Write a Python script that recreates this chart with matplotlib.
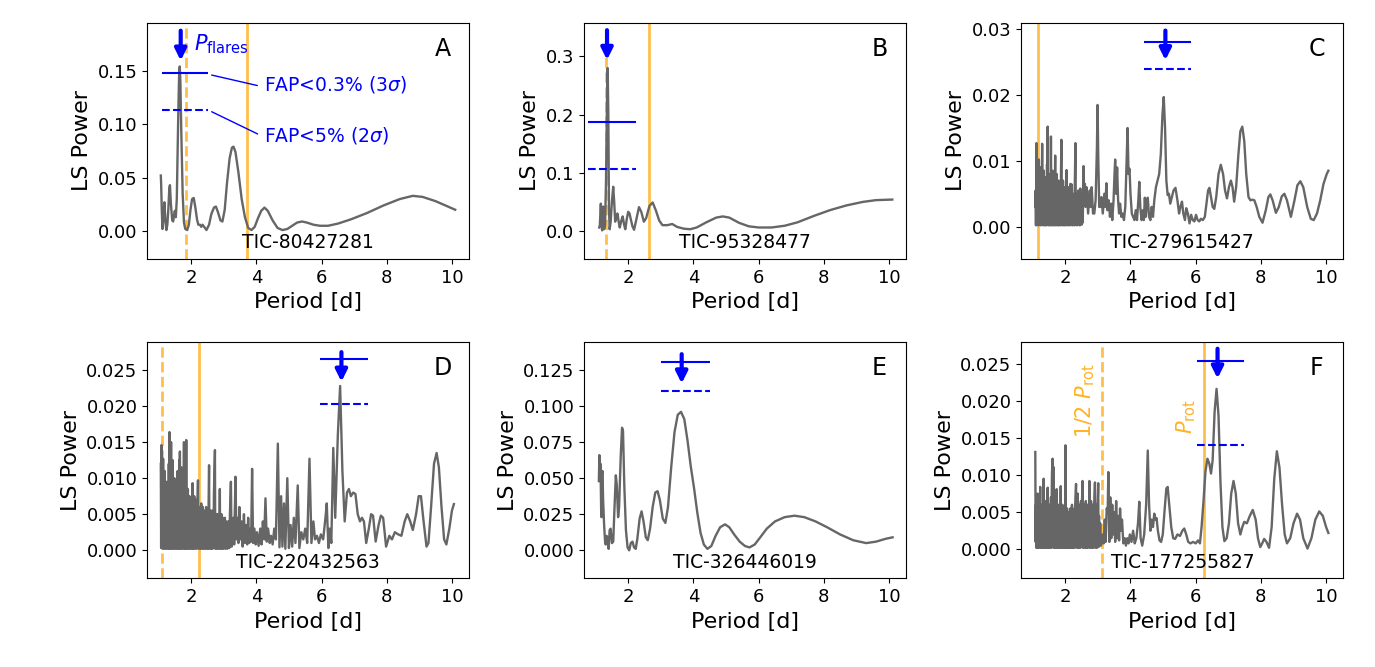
import matplotlib
matplotlib.use('Agg')
import matplotlib.pyplot as plt

# ---- panel A : TIC-80427281 ----
period_A = [1.07, 1.08, 1.10, 1.12, 1.15, 1.18, 1.21, 1.24, 1.27, 1.30, 1.33, 1.35, 1.38, 1.42, 1.45,
            1.48, 1.50, 1.53, 1.56, 1.60, 1.63, 1.65, 1.67, 1.70, 1.74, 1.78, 1.82, 1.88, 1.93, 1.98,
            2.03, 2.08, 2.13, 2.18, 2.22, 2.27, 2.31, 2.35, 2.40, 2.47, 2.55, 2.62, 2.70, 2.76, 2.82,
            2.90, 2.96, 3.03, 3.10, 3.18, 3.25, 3.30, 3.36, 3.45, 3.55, 3.65, 3.75, 3.85, 3.95, 4.05,
            4.15, 4.25, 4.35, 4.50, 4.65, 4.80, 4.95, 5.10, 5.25, 5.40, 5.55, 5.75, 5.95, 6.20, 6.50,
            6.90, 7.40, 7.90, 8.40, 8.80, 9.10, 9.50, 9.80, 10.10]
power_A = [0.052, 0.044, 0.020, 0.002, 0.012, 0.027, 0.010, 0.001, 0.006, 0.020, 0.040, 0.043, 0.025, 0.010, 0.009,
           0.016, 0.019, 0.013, 0.030, 0.100, 0.145, 0.154, 0.140, 0.090, 0.035, 0.008, 0.002, 0.001, 0.006, 0.020,
           0.030, 0.031, 0.022, 0.011, 0.006, 0.006, 0.004, 0.006, 0.004, 0.001, 0.006, 0.016, 0.022, 0.023, 0.018,
           0.010, 0.009, 0.020, 0.045, 0.068, 0.078, 0.079, 0.074, 0.055, 0.030, 0.013, 0.003, 0.001, 0.004, 0.012,
           0.019, 0.022, 0.019, 0.010, 0.003, 0.001, 0.002, 0.005, 0.008, 0.009, 0.008, 0.006, 0.005, 0.005, 0.007,
           0.011, 0.017, 0.024, 0.030, 0.033, 0.032, 0.028, 0.024, 0.020]
yticks_A = [0.00, 0.05, 0.10, 0.15]

# ---- panel B : TIC-95328477 ----
period_B = [1.11, 1.13, 1.16, 1.18, 1.20, 1.23, 1.26, 1.29, 1.32, 1.35, 1.37, 1.39, 1.41, 1.43, 1.46,
            1.50, 1.54, 1.57, 1.60, 1.64, 1.67, 1.71, 1.74, 1.79, 1.83, 1.87, 1.91, 1.96, 2.00, 2.04,
            2.08, 2.13, 2.18, 2.25, 2.33, 2.40, 2.48, 2.55, 2.65, 2.75, 2.85, 2.95, 3.05, 3.20, 3.35,
            3.50, 3.70, 3.90, 4.10, 4.40, 4.70, 4.90, 5.10, 5.40, 5.70, 6.00, 6.40, 6.80, 7.20, 7.70,
            8.20, 8.70, 9.20, 9.60, 10.10]
power_B = [0.006, 0.010, 0.047, 0.010, 0.001, 0.042, 0.003, 0.010, 0.090, 0.230, 0.280, 0.200, 0.040, 0.003, 0.015,
           0.050, 0.076, 0.050, 0.016, 0.025, 0.030, 0.015, 0.006, 0.018, 0.025, 0.012, 0.003, 0.022, 0.033, 0.030,
           0.020, 0.008, 0.002, 0.020, 0.041, 0.033, 0.016, 0.022, 0.043, 0.049, 0.035, 0.018, 0.010, 0.010, 0.012,
           0.007, 0.004, 0.003, 0.006, 0.015, 0.023, 0.025, 0.023, 0.014, 0.008, 0.006, 0.006, 0.009, 0.015, 0.026,
           0.036, 0.044, 0.050, 0.053, 0.054]
yticks_B = [0.0, 0.1, 0.2, 0.3]

# ---- panel C : TIC-279615427 ----
period_C = [1.08, 1.09, 1.10, 1.115, 1.125, 1.14, 1.15, 1.165, 1.175, 1.19, 1.20, 1.215, 1.225, 1.24, 1.25,
            1.265, 1.275, 1.29, 1.30, 1.315, 1.325, 1.34, 1.35, 1.365, 1.375, 1.39, 1.40, 1.415, 1.425, 1.44,
            1.45, 1.46, 1.47, 1.485, 1.495, 1.51, 1.52, 1.535, 1.545, 1.56, 1.57, 1.585, 1.595, 1.61, 1.62,
            1.635, 1.645, 1.66, 1.67, 1.69, 1.70, 1.715, 1.725, 1.74, 1.75, 1.765, 1.775, 1.79, 1.80, 1.815,
            1.825, 1.84, 1.85, 1.88, 1.89, 1.905, 1.915, 1.93, 1.94, 1.955, 1.965, 1.98, 1.99, 2.01, 2.02,
            2.04, 2.05, 2.065, 2.08, 2.095, 2.11, 2.125, 2.14, 2.155, 2.17, 2.185, 2.20, 2.215, 2.23, 2.245,
            2.26, 2.275, 2.29, 2.31, 2.325, 2.34, 2.355, 2.37, 2.385, 2.40, 2.415, 2.43, 2.445, 2.46, 2.475,
            2.49, 2.505, 2.52, 2.535, 2.56, 2.58, 2.60, 2.62, 2.65, 2.70, 2.75, 2.78, 2.81, 2.85, 2.89,
            2.93, 2.97, 2.99, 3.01, 3.04, 3.07, 3.11, 3.15, 3.20, 3.23, 3.26, 3.29, 3.33, 3.37, 3.41,
            3.44, 3.48, 3.51, 3.53, 3.56, 3.59, 3.62, 3.65, 3.68, 3.72, 3.76, 3.80, 3.84, 3.88, 3.91,
            3.94, 3.97, 4.00, 4.04, 4.08, 4.12, 4.16, 4.20, 4.24, 4.27, 4.30, 4.34, 4.38, 4.41, 4.44,
            4.47, 4.50, 4.53, 4.57, 4.61, 4.65, 4.69, 4.73, 4.78, 4.83, 4.88, 4.93, 4.98, 5.02, 5.06,
            5.10, 5.14, 5.18, 5.22, 5.27, 5.32, 5.38, 5.44, 5.49, 5.53, 5.58, 5.62, 5.67, 5.71, 5.76,
            5.81, 5.86, 5.91, 5.96, 6.01, 6.06, 6.11, 6.16, 6.22, 6.28, 6.33, 6.38, 6.42, 6.47, 6.52,
            6.57, 6.63, 6.70, 6.77, 6.84, 6.90, 6.96, 7.02, 7.08, 7.13, 7.18, 7.24, 7.31, 7.37, 7.43,
            7.49, 7.55, 7.62, 7.68, 7.74, 7.80, 7.87, 7.95, 8.05, 8.15, 8.23, 8.29, 8.36, 8.46, 8.55,
            8.64, 8.72, 8.80, 8.92, 9.03, 9.12, 9.21, 9.30, 9.42, 9.53, 9.62, 9.72, 9.82, 9.92, 10.02,
            10.07]
power_C = [0.0030, 0.0055, 0.0002, 0.0127, 0.0003, 0.0098, 0.0005, 0.0080, 0.0002, 0.0102, 0.0004, 0.0060, 0.0003, 0.0090, 0.0002,
           0.0050, 0.0004, 0.0126, 0.0003, 0.0070, 0.0002, 0.0085, 0.0004, 0.0055, 0.0002, 0.0075, 0.0005, 0.0060, 0.0002, 0.0095,
           0.0003, 0.0152, 0.0003, 0.0065, 0.0002, 0.0080, 0.0004, 0.0050, 0.0002, 0.0137, 0.0003, 0.0070, 0.0002, 0.0085, 0.0004,
           0.0055, 0.0002, 0.0075, 0.0003, 0.0108, 0.0002, 0.0060, 0.0004, 0.0080, 0.0002, 0.0050, 0.0003, 0.0070, 0.0002, 0.0045,
           0.0004, 0.0065, 0.0002, 0.0132, 0.0003, 0.0055, 0.0002, 0.0070, 0.0004, 0.0045, 0.0002, 0.0060, 0.0003, 0.0050, 0.0002,
           0.0086, 0.0003, 0.0045, 0.0002, 0.0060, 0.0004, 0.0040, 0.0002, 0.0065, 0.0003, 0.0045, 0.0064, 0.0002, 0.0050, 0.0004,
           0.0040, 0.0002, 0.0055, 0.0127, 0.0003, 0.0050, 0.0002, 0.0045, 0.0004, 0.0055, 0.0003, 0.0040, 0.0002, 0.0058, 0.0005,
           0.0045, 0.0003, 0.0050, 0.0006, 0.0092, 0.0040, 0.0065, 0.0030, 0.0060, 0.0020, 0.0055, 0.0030, 0.0060, 0.0020, 0.0020,
           0.0040, 0.0120, 0.0185, 0.0110, 0.0030, 0.0030, 0.0045, 0.0020, 0.0050, 0.0030, 0.0066, 0.0025, 0.0040, 0.0015, 0.0035,
           0.0010, 0.0040, 0.0080, 0.0102, 0.0050, 0.0090, 0.0040, 0.0020, 0.0035, 0.0015, 0.0020, 0.0010, 0.0030, 0.0100, 0.0150,
           0.0080, 0.0088, 0.0050, 0.0020, 0.0015, 0.0010, 0.0025, 0.0010, 0.0040, 0.0068, 0.0030, 0.0010, 0.0025, 0.0010, 0.0044,
           0.0015, 0.0040, 0.0044, 0.0015, 0.0010, 0.0030, 0.0015, 0.0040, 0.0060, 0.0070, 0.0080, 0.0110, 0.0170, 0.0197, 0.0150,
           0.0070, 0.0048, 0.0050, 0.0035, 0.0045, 0.0055, 0.0059, 0.0040, 0.0020, 0.0030, 0.0038, 0.0020, 0.0010, 0.0028, 0.0020,
           0.0005, 0.0018, 0.0010, 0.0008, 0.0018, 0.0010, 0.0008, 0.0012, 0.0010, 0.0015, 0.0035, 0.0055, 0.0059, 0.0045, 0.0030,
           0.0027, 0.0045, 0.0080, 0.0094, 0.0080, 0.0055, 0.0043, 0.0060, 0.0070, 0.0060, 0.0038, 0.0060, 0.0110, 0.0145, 0.0152,
           0.0130, 0.0080, 0.0045, 0.0040, 0.0041, 0.0040, 0.0030, 0.0015, 0.0006, 0.0025, 0.0045, 0.0049, 0.0040, 0.0021, 0.0030,
           0.0046, 0.0050, 0.0040, 0.0015, 0.0040, 0.0063, 0.0069, 0.0060, 0.0030, 0.0012, 0.0010, 0.0020, 0.0040, 0.0065, 0.0080,
           0.0085]
yticks_C = [0.00, 0.01, 0.02, 0.03]

# ---- panel D : TIC-220432563 ----
period_D = [1.07, 1.08, 1.09, 1.10, 1.115, 1.125, 1.14, 1.15, 1.165, 1.175, 1.19, 1.20, 1.215, 1.225, 1.24,
            1.25, 1.265, 1.275, 1.29, 1.30, 1.315, 1.325, 1.335, 1.345, 1.36, 1.37, 1.385, 1.395, 1.41, 1.42,
            1.435, 1.445, 1.46, 1.47, 1.485, 1.495, 1.51, 1.52, 1.535, 1.545, 1.56, 1.57, 1.585, 1.595, 1.61,
            1.62, 1.635, 1.645, 1.655, 1.665, 1.68, 1.69, 1.705, 1.715, 1.73, 1.74, 1.755, 1.765, 1.78, 1.79,
            1.805, 1.815, 1.83, 1.84, 1.85, 1.86, 1.875, 1.885, 1.90, 1.91, 1.925, 1.935, 1.95, 1.96, 1.975,
            1.985, 2.00, 2.01, 2.025, 2.035, 2.045, 2.055, 2.07, 2.08, 2.095, 2.105, 2.12, 2.13, 2.145, 2.155,
            2.17, 2.18, 2.195, 2.21, 2.22, 2.235, 2.245, 2.26, 2.27, 2.285, 2.295, 2.31, 2.32, 2.335, 2.345,
            2.36, 2.37, 2.385, 2.395, 2.41, 2.42, 2.435, 2.445, 2.46, 2.47, 2.485, 2.495, 2.51, 2.52, 2.535,
            2.55, 2.56, 2.575, 2.585, 2.60, 2.61, 2.625, 2.635, 2.65, 2.66, 2.675, 2.685, 2.70, 2.73, 2.74,
            2.755, 2.765, 2.78, 2.79, 2.805, 2.815, 2.83, 2.84, 2.855, 2.865, 2.88, 2.89, 2.905, 2.915, 2.93,
            2.94, 2.955, 2.965, 2.98, 2.99, 3.005, 3.02, 3.035, 3.05, 3.065, 3.08, 3.095, 3.11, 3.125, 3.14,
            3.155, 3.17, 3.19, 3.22, 3.24, 3.26, 3.28, 3.30, 3.32, 3.36, 3.39, 3.42, 3.45, 3.48, 3.51,
            3.55, 3.58, 3.62, 3.65, 3.69, 3.72, 3.75, 3.78, 3.82, 3.84, 3.87, 3.90, 3.94, 3.98, 4.02,
            4.07, 4.12, 4.16, 4.20, 4.24, 4.28, 4.32, 4.36, 4.41, 4.45, 4.50, 4.55, 4.60, 4.66, 4.71,
            4.76, 4.80, 4.85, 4.89, 4.95, 5.00, 5.05, 5.10, 5.15, 5.20, 5.27, 5.32, 5.38, 5.44, 5.50,
            5.56, 5.63, 5.69, 5.75, 5.80, 5.86, 5.92, 5.98, 6.05, 6.12, 6.16, 6.21, 6.25, 6.30, 6.36,
            6.42, 6.50, 6.57, 6.64, 6.71, 6.78, 6.84, 6.90, 6.97, 7.04, 7.11, 7.18, 7.24, 7.30, 7.37,
            7.45, 7.52, 7.58, 7.66, 7.75, 7.82, 7.89, 7.98, 8.08, 8.16, 8.25, 8.35, 8.45, 8.55, 8.63,
            8.72, 8.80, 8.90, 8.98, 9.05, 9.13, 9.22, 9.28, 9.36, 9.45, 9.53, 9.60, 9.68, 9.76, 9.83,
            9.92, 10.00, 10.06]
power_D = [0.0120, 0.0003, 0.0146, 0.0005, 0.0100, 0.0002, 0.0127, 0.0004, 0.0070, 0.0002, 0.0110, 0.0005, 0.0065, 0.0002, 0.0095,
           0.0004, 0.0060, 0.0002, 0.0080, 0.0003, 0.0120, 0.0002, 0.0164, 0.0004, 0.0110, 0.0002, 0.0150, 0.0003, 0.0085, 0.0002,
           0.0125, 0.0004, 0.0070, 0.0002, 0.0100, 0.0003, 0.0065, 0.0002, 0.0085, 0.0004, 0.0060, 0.0002, 0.0110, 0.0003, 0.0075,
           0.0002, 0.0125, 0.0004, 0.0137, 0.0002, 0.0080, 0.0003, 0.0115, 0.0002, 0.0065, 0.0004, 0.0105, 0.0002, 0.0150, 0.0003,
           0.0090, 0.0002, 0.0120, 0.0004, 0.0153, 0.0002, 0.0070, 0.0003, 0.0085, 0.0002, 0.0055, 0.0004, 0.0075, 0.0002, 0.0060,
           0.0003, 0.0070, 0.0002, 0.0065, 0.0004, 0.0093, 0.0002, 0.0060, 0.0003, 0.0075, 0.0002, 0.0055, 0.0004, 0.0070, 0.0002,
           0.0050, 0.0003, 0.0065, 0.0097, 0.0002, 0.0055, 0.0004, 0.0060, 0.0002, 0.0050, 0.0003, 0.0065, 0.0002, 0.0050, 0.0004,
           0.0060, 0.0002, 0.0045, 0.0003, 0.0055, 0.0002, 0.0050, 0.0004, 0.0060, 0.0002, 0.0045, 0.0003, 0.0055, 0.0002, 0.0060,
           0.0118, 0.0002, 0.0050, 0.0004, 0.0055, 0.0002, 0.0045, 0.0003, 0.0055, 0.0002, 0.0050, 0.0004, 0.0080, 0.0139, 0.0002,
           0.0045, 0.0003, 0.0050, 0.0002, 0.0040, 0.0004, 0.0050, 0.0002, 0.0045, 0.0003, 0.0085, 0.0002, 0.0040, 0.0004, 0.0050,
           0.0002, 0.0040, 0.0003, 0.0045, 0.0002, 0.0035, 0.0004, 0.0045, 0.0002, 0.0035, 0.0003, 0.0040, 0.0002, 0.0035, 0.0004,
           0.0040, 0.0003, 0.0050, 0.0095, 0.0005, 0.0040, 0.0010, 0.0045, 0.0008, 0.0102, 0.0015, 0.0045, 0.0010, 0.0060, 0.0015,
           0.0040, 0.0005, 0.0050, 0.0010, 0.0035, 0.0008, 0.0045, 0.0010, 0.0030, 0.0012, 0.0113, 0.0010, 0.0030, 0.0008, 0.0025,
           0.0006, 0.0030, 0.0008, 0.0040, 0.0015, 0.0072, 0.0012, 0.0030, 0.0010, 0.0020, 0.0008, 0.0030, 0.0015, 0.0148, 0.0004,
           0.0075, 0.0005, 0.0065, 0.0002, 0.0100, 0.0003, 0.0035, 0.0005, 0.0045, 0.0010, 0.0090, 0.0003, 0.0025, 0.0015, 0.0030,
           0.0010, 0.0127, 0.0010, 0.0040, 0.0015, 0.0020, 0.0010, 0.0022, 0.0015, 0.0045, 0.0065, 0.0003, 0.0030, 0.0010, 0.0142,
           0.0045, 0.0160, 0.0228, 0.0110, 0.0040, 0.0080, 0.0085, 0.0075, 0.0080, 0.0078, 0.0050, 0.0040, 0.0045, 0.0040, 0.0010,
           0.0030, 0.0050, 0.0048, 0.0012, 0.0035, 0.0048, 0.0045, 0.0005, 0.0020, 0.0015, 0.0025, 0.0022, 0.0020, 0.0040, 0.0050,
           0.0040, 0.0028, 0.0050, 0.0075, 0.0075, 0.0040, 0.0005, 0.0010, 0.0060, 0.0120, 0.0135, 0.0115, 0.0060, 0.0015, 0.0008,
           0.0030, 0.0055, 0.0064]
yticks_D = [0.000, 0.005, 0.010, 0.015, 0.020, 0.025]

# ---- panel E : TIC-326446019 ----
period_E = [1.10, 1.115, 1.13, 1.15, 1.17, 1.18, 1.195, 1.21, 1.23, 1.26, 1.29, 1.31, 1.34, 1.37, 1.40,
            1.43, 1.46, 1.50, 1.54, 1.58, 1.62, 1.65, 1.69, 1.72, 1.77, 1.81, 1.84, 1.88, 1.93, 1.98,
            2.03, 2.08, 2.13, 2.18, 2.23, 2.28, 2.35, 2.41, 2.47, 2.54, 2.60, 2.67, 2.75, 2.83, 2.90,
            2.97, 3.06, 3.14, 3.22, 3.32, 3.42, 3.52, 3.62, 3.72, 3.82, 3.92, 4.02, 4.12, 4.22, 4.32,
            4.43, 4.55, 4.68, 4.82, 4.97, 5.10, 5.25, 5.42, 5.58, 5.72, 5.88, 6.05, 6.25, 6.50, 6.80,
            7.10, 7.40, 7.75, 8.10, 8.50, 8.90, 9.30, 9.60, 9.90, 10.11]
power_E = [0.048, 0.066, 0.050, 0.060, 0.028, 0.023, 0.052, 0.055, 0.035, 0.018, 0.006, 0.004, 0.010, 0.008, 0.001,
           0.014, 0.015, 0.005, 0.006, 0.030, 0.052, 0.045, 0.023, 0.030, 0.065, 0.085, 0.083, 0.045, 0.014, 0.002,
           0.000, 0.005, 0.006, 0.002, 0.001, 0.008, 0.022, 0.027, 0.020, 0.009, 0.007, 0.015, 0.030, 0.040, 0.041,
           0.035, 0.022, 0.019, 0.030, 0.058, 0.082, 0.094, 0.096, 0.091, 0.076, 0.058, 0.043, 0.026, 0.012, 0.004,
           0.001, 0.003, 0.010, 0.016, 0.018, 0.016, 0.011, 0.006, 0.003, 0.002, 0.004, 0.009, 0.015, 0.020, 0.023,
           0.024, 0.023, 0.020, 0.016, 0.011, 0.007, 0.005, 0.006, 0.008, 0.009]
yticks_E = [0.000, 0.025, 0.050, 0.075, 0.100, 0.125]

# ---- panel F : TIC-177255827 ----
period_F = [1.08, 1.09, 1.10, 1.11, 1.125, 1.135, 1.15, 1.16, 1.175, 1.185, 1.20, 1.21, 1.23, 1.24, 1.255,
            1.265, 1.28, 1.29, 1.305, 1.315, 1.335, 1.345, 1.36, 1.37, 1.385, 1.395, 1.41, 1.42, 1.435, 1.445,
            1.46, 1.47, 1.485, 1.495, 1.51, 1.52, 1.535, 1.545, 1.56, 1.57, 1.59, 1.61, 1.62, 1.635, 1.645,
            1.66, 1.67, 1.685, 1.695, 1.71, 1.72, 1.735, 1.745, 1.76, 1.77, 1.785, 1.795, 1.81, 1.82, 1.835,
            1.845, 1.86, 1.87, 1.885, 1.895, 1.91, 1.92, 1.935, 1.945, 1.96, 1.97, 1.985, 1.995, 2.005, 2.015,
            2.03, 2.04, 2.055, 2.065, 2.08, 2.09, 2.105, 2.115, 2.13, 2.14, 2.155, 2.165, 2.18, 2.19, 2.205,
            2.215, 2.23, 2.24, 2.255, 2.265, 2.28, 2.29, 2.305, 2.33, 2.34, 2.355, 2.365, 2.38, 2.39, 2.405,
            2.415, 2.43, 2.44, 2.455, 2.465, 2.48, 2.49, 2.505, 2.53, 2.54, 2.555, 2.565, 2.58, 2.59, 2.605,
            2.615, 2.63, 2.64, 2.655, 2.665, 2.68, 2.69, 2.705, 2.715, 2.74, 2.75, 2.765, 2.775, 2.79, 2.80,
            2.815, 2.825, 2.84, 2.85, 2.865, 2.875, 2.89, 2.91, 2.92, 2.935, 2.945, 2.96, 2.97, 2.985, 3.01,
            3.02, 3.035, 3.05, 3.07, 3.09, 3.12, 3.15, 3.18, 3.21, 3.24, 3.27, 3.30, 3.32, 3.35, 3.38,
            3.41, 3.44, 3.47, 3.50, 3.53, 3.56, 3.59, 3.62, 3.65, 3.68, 3.71, 3.74, 3.78, 3.82, 3.86,
            3.90, 3.94, 3.98, 4.03, 4.08, 4.13, 4.18, 4.23, 4.27, 4.31, 4.36, 4.42, 4.48, 4.53, 4.57,
            4.61, 4.65, 4.69, 4.73, 4.77, 4.80, 4.84, 4.89, 4.94, 4.99, 5.05, 5.10, 5.14, 5.19, 5.25,
            5.31, 5.37, 5.44, 5.52, 5.59, 5.65, 5.71, 5.77, 5.84, 5.92, 6.00, 6.07, 6.13, 6.18, 6.24,
            6.30, 6.36, 6.42, 6.47, 6.52, 6.58, 6.64, 6.70, 6.76, 6.82, 6.88, 6.95, 7.02, 7.09, 7.16,
            7.23, 7.30, 7.37, 7.43, 7.49, 7.57, 7.66, 7.75, 7.84, 7.91, 7.98, 8.04, 8.10, 8.17, 8.25,
            8.33, 8.41, 8.49, 8.57, 8.65, 8.73, 8.80, 8.90, 9.00, 9.11, 9.20, 9.30, 9.43, 9.55, 9.67,
            9.79, 9.90, 10.00, 10.07]
power_F = [0.0131, 0.0010, 0.0060, 0.0002, 0.0050, 0.0003, 0.0075, 0.0002, 0.0045, 0.0004, 0.0065, 0.0002, 0.0084, 0.0003, 0.0050,
           0.0002, 0.0060, 0.0004, 0.0045, 0.0002, 0.0095, 0.0003, 0.0055, 0.0002, 0.0065, 0.0004, 0.0045, 0.0002, 0.0060, 0.0003,
           0.0083, 0.0002, 0.0050, 0.0004, 0.0060, 0.0002, 0.0045, 0.0003, 0.0070, 0.0002, 0.0100, 0.0122, 0.0003, 0.0111, 0.0002,
           0.0050, 0.0004, 0.0060, 0.0002, 0.0045, 0.0003, 0.0081, 0.0002, 0.0050, 0.0004, 0.0060, 0.0002, 0.0045, 0.0003, 0.0055,
           0.0002, 0.0085, 0.0004, 0.0050, 0.0002, 0.0060, 0.0003, 0.0045, 0.0002, 0.0055, 0.0004, 0.0050, 0.0002, 0.0140, 0.0003,
           0.0045, 0.0002, 0.0055, 0.0004, 0.0040, 0.0002, 0.0050, 0.0003, 0.0045, 0.0002, 0.0055, 0.0004, 0.0040, 0.0002, 0.0060,
           0.0003, 0.0045, 0.0002, 0.0050, 0.0004, 0.0055, 0.0002, 0.0060, 0.0088, 0.0003, 0.0050, 0.0002, 0.0075, 0.0004, 0.0045,
           0.0002, 0.0060, 0.0003, 0.0050, 0.0002, 0.0065, 0.0004, 0.0055, 0.0092, 0.0002, 0.0050, 0.0003, 0.0060, 0.0002, 0.0045,
           0.0004, 0.0065, 0.0002, 0.0050, 0.0003, 0.0060, 0.0002, 0.0055, 0.0004, 0.0092, 0.0002, 0.0050, 0.0003, 0.0065, 0.0002,
           0.0055, 0.0004, 0.0060, 0.0002, 0.0050, 0.0003, 0.0060, 0.0090, 0.0002, 0.0055, 0.0004, 0.0060, 0.0002, 0.0050, 0.0089,
           0.0003, 0.0045, 0.0005, 0.0035, 0.0005, 0.0008, 0.0020, 0.0008, 0.0040, 0.0010, 0.0055, 0.0050, 0.0104, 0.0010, 0.0070,
           0.0015, 0.0060, 0.0020, 0.0050, 0.0010, 0.0065, 0.0015, 0.0045, 0.0012, 0.0055, 0.0025, 0.0040, 0.0008, 0.0015, 0.0005,
           0.0015, 0.0008, 0.0020, 0.0010, 0.0025, 0.0008, 0.0015, 0.0035, 0.0064, 0.0015, 0.0005, 0.0020, 0.0060, 0.0133, 0.0060,
           0.0025, 0.0040, 0.0030, 0.0048, 0.0040, 0.0042, 0.0025, 0.0012, 0.0010, 0.0020, 0.0055, 0.0082, 0.0084, 0.0060, 0.0030,
           0.0015, 0.0014, 0.0020, 0.0018, 0.0025, 0.0028, 0.0020, 0.0010, 0.0008, 0.0010, 0.0008, 0.0012, 0.0008, 0.0030, 0.0065,
           0.0105, 0.0122, 0.0115, 0.0102, 0.0120, 0.0185, 0.0216, 0.0180, 0.0090, 0.0030, 0.0011, 0.0015, 0.0035, 0.0075, 0.0092,
           0.0075, 0.0035, 0.0020, 0.0030, 0.0037, 0.0035, 0.0045, 0.0053, 0.0040, 0.0015, 0.0003, 0.0008, 0.0014, 0.0010, 0.0002,
           0.0030, 0.0095, 0.0132, 0.0110, 0.0060, 0.0020, 0.0008, 0.0015, 0.0035, 0.0048, 0.0040, 0.0015, 0.0001, 0.0015, 0.0040,
           0.0051, 0.0045, 0.0030, 0.0022]
yticks_F = [0.000, 0.005, 0.010, 0.015, 0.020, 0.025]

# rotation periods [d], FAP levels (3 sigma, 2 sigma) and flare periods
prot = {'A': 3.70, 'B': 2.63, 'C': 1.17, 'D': 2.24, 'E': None, 'F': 6.24}
fap3 = {'A': 0.148, 'B': 0.188, 'C': 0.0280, 'D': 0.0265, 'E': 0.1308, 'F': 0.0254}
fap2 = {'A': 0.113, 'B': 0.107, 'C': 0.0240, 'D': 0.0203, 'E': 0.1104, 'F': 0.0140}
p_flares = {'A': 1.68, 'B': 1.35, 'C': 5.07, 'D': 6.61, 'E': 3.64, 'F': 6.67}
tic = {'A': 'TIC-80427281', 'B': 'TIC-95328477', 'C': 'TIC-279615427',
       'D': 'TIC-220432563', 'E': 'TIC-326446019', 'F': 'TIC-177255827'}

panels = [
    dict(key='A', period=period_A, power=power_A, yticks=yticks_A, ylim=(-0.026, 0.195),
         span=(1.11, 2.52), arrow=(0.1875, 0.1595)),
    dict(key='B', period=period_B, power=power_B, yticks=yticks_B, ylim=(-0.048, 0.358),
         span=(0.77, 2.24), arrow=(0.345, 0.294)),
    dict(key='C', period=period_C, power=power_C, yticks=yticks_C, ylim=(-0.0049, 0.031),
         span=(4.42, 5.86), arrow=(0.0298, 0.0253)),
    dict(key='D', period=period_D, power=power_D, yticks=yticks_D, ylim=(-0.0039, 0.0289),
         span=(5.95, 7.41), arrow=(0.0275, 0.0234)),
    dict(key='E', period=period_E, power=power_E, yticks=yticks_E, ylim=(-0.0194, 0.1444),
         span=(3.02, 4.51), arrow=(0.136, 0.1157)),
    dict(key='F', period=period_F, power=power_F, yticks=yticks_F, ylim=(-0.0039, 0.0279),
         span=(6.04, 7.47), arrow=(0.0270, 0.0230)),
]

fig, axes = plt.subplots(2, 3, figsize=(13.75, 6.67), dpi=100)
fig.subplots_adjust(left=0.107, right=0.977, bottom=0.133, top=0.966, wspace=0.357, hspace=0.352)

for ax, p in zip(axes.flat, panels):
    k = p['key']
    if prot[k] is not None:
        ax.axvline(prot[k], color='orange', alpha=0.7, lw=2)
        ax.axvline(prot[k] / 2, color='orange', alpha=0.7, lw=2, ls='--')
    ax.plot(p['period'], p['power'], color='#666666', lw=1.7)
    ax.hlines(fap3[k], p['span'][0], p['span'][1], color='blue', lw=1.5)
    ax.hlines(fap2[k], p['span'][0], p['span'][1], color='blue', lw=1.5, linestyles='--')
    ax.annotate('', xy=(p_flares[k], p['arrow'][1]), xytext=(p_flares[k], p['arrow'][0]),
                arrowprops=dict(arrowstyle='-|>', color='blue', lw=3, mutation_scale=17,
                                shrinkA=0, shrinkB=0))
    ax.set_xlim(0.65, 10.53)
    ax.set_ylim(*p['ylim'])
    ax.set_xticks([2, 4, 6, 8, 10])
    ax.set_yticks(p['yticks'])
    ax.tick_params(labelsize=13)
    ax.set_xlabel('Period [d]', fontsize=16)
    ax.set_ylabel('LS Power', fontsize=16)
    ax.text(0.917, 0.89, k, transform=ax.transAxes, fontsize=17, ha='center', va='center')
    ax.text(0.5, 0.068, tic[k], transform=ax.transAxes, fontsize=13.5, ha='center', va='center')

# labels that only appear in panel A and F
axA = axes[0, 0]
axA.text(2.09, 0.1744, r'$P_\mathrm{flares}$', color='blue', fontsize=15, ha='left', va='center')
axA.annotate(r'FAP<0.3% (3$\sigma$)', xy=(2.63, 0.146), xytext=(4.24, 0.1367), color='blue',
             fontsize=13.5, ha='left', va='center',
             arrowprops=dict(arrowstyle='-', color='blue', lw=1, relpos=(0, 0.4), shrinkA=3, shrinkB=0))
axA.annotate(r'FAP<5% (2$\sigma$)', xy=(2.63, 0.1117), xytext=(4.24, 0.0899), color='blue',
             fontsize=13.5, ha='left', va='center',
             arrowprops=dict(arrowstyle='-', color='blue', lw=1, relpos=(0, 0.4), shrinkA=3, shrinkB=0))

axF = axes[1, 2]
axF.text(2.96, 0.01995, r'1/2 $P_\mathrm{rot}$', color='orange', alpha=0.85, fontsize=15,
         rotation=90, ha='right', va='center')
axF.text(6.06, 0.0179, r'$P_\mathrm{rot}$', color='orange', alpha=0.85, fontsize=15,
         rotation=90, ha='right', va='center')

fig.savefig('out.png', dpi=100)
